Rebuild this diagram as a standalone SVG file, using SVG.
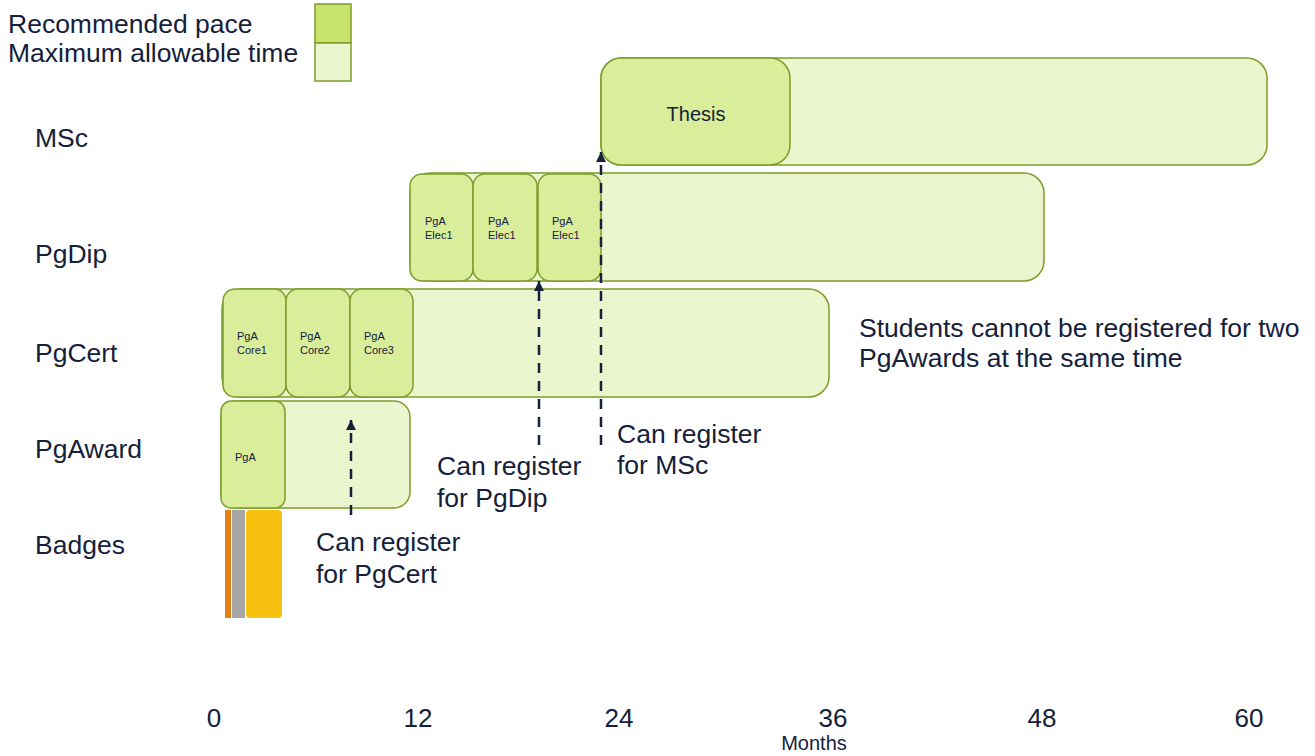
<svg xmlns="http://www.w3.org/2000/svg" width="1315" height="756" viewBox="0 0 1315 756">
<defs>
<style>
text{font-family:"Liberation Sans",Arial,sans-serif;fill:#15213b}
.lbl{font-size:26.5px}
.note{font-size:26.5px}
.small{font-size:11px}
.ax{font-size:26px;text-anchor:middle}
.max{fill:#ebf6cf;stroke:#7d9c2a;stroke-width:1.5}
.rec{fill:#d9ed9b;stroke:#7d9c2a;stroke-width:1.5}
.conn{stroke:#15213b;stroke-width:2.5;stroke-dasharray:10,8;fill:none}
</style>
<marker id="ah" viewBox="0 0 10 10" refX="10" refY="5" markerWidth="4" markerHeight="4" orient="auto" markerUnits="strokeWidth">
<path d="M0,0 L10,5 L0,10 Z" fill="#15213b"/>
</marker>
</defs>
<rect width="1315" height="756" fill="#fff"/>
<g id="legend">
<text x="8" y="33" class="lbl">Recommended pace</text>
<text x="8" y="62" class="lbl">Maximum allowable time</text>
<rect x="315" y="4" width="36" height="39" fill="#c8e36b" stroke="#7d9c2a" stroke-width="1.5"/>
<rect x="315" y="43" width="36" height="38" fill="#ebf6cf" stroke="#7d9c2a" stroke-width="1.5"/>
</g>
<g id="row-labels">
<text x="35" y="147" class="lbl">MSc</text>
<text x="35" y="263" class="lbl">PgDip</text>
<text x="35" y="362" class="lbl">PgCert</text>
<text x="35" y="458" class="lbl">PgAward</text>
<text x="35" y="554" class="lbl">Badges</text>
</g>
<g id="msc">
<rect class="max" x="601" y="58" width="666" height="107" rx="20"/>
<rect class="rec" x="601" y="58" width="189" height="107" rx="20"/>
<text x="696" y="121" font-size="20" text-anchor="middle">Thesis</text>
</g>
<g id="pgdip">
<rect class="max" x="410" y="173" width="634" height="108" rx="20"/>
<rect class="rec" x="410" y="174" width="63" height="107" rx="12"/>
<rect class="rec" x="473" y="174" width="64" height="107" rx="12"/>
<rect class="rec" x="538" y="174" width="63" height="107" rx="12"/>
<text x="425" y="225" class="small">PgA</text><text x="425" y="239" class="small">Elec1</text>
<text x="488" y="225" class="small">PgA</text><text x="488" y="239" class="small">Elec1</text>
<text x="552" y="225" class="small">PgA</text><text x="552" y="239" class="small">Elec1</text>
</g>
<g id="pgcert">
<rect class="max" x="222" y="289" width="607" height="108" rx="20"/>
<rect class="rec" x="223" y="289" width="63" height="108" rx="12"/>
<rect class="rec" x="286" y="289" width="64" height="108" rx="12"/>
<rect class="rec" x="350" y="289" width="63" height="108" rx="12"/>
<text x="237" y="340" class="small">PgA</text><text x="237" y="354" class="small">Core1</text>
<text x="300" y="340" class="small">PgA</text><text x="300" y="354" class="small">Core2</text>
<text x="364" y="340" class="small">PgA</text><text x="364" y="354" class="small">Core3</text>
</g>
<g id="pgaward">
<rect class="max" x="221" y="401" width="189" height="107" rx="16"/>
<rect class="rec" x="221" y="401" width="64" height="107" rx="10"/>
<text x="235" y="461" class="small">PgA</text>
</g>
<g id="badges">
<rect x="225" y="510" width="6" height="108" fill="#e58113"/>
<rect x="232" y="510" width="13" height="108" fill="#a6a6a6"/>
<rect x="246" y="510" width="36" height="108" rx="4" fill="#f7c20f"/>
</g>
<g id="connectors">
<line class="conn" x1="351" y1="515" x2="351" y2="420" marker-end="url(#ah)"/>
<line class="conn" x1="539" y1="445" x2="539" y2="281" marker-end="url(#ah)"/>
<line class="conn" x1="601" y1="445" x2="601" y2="152" marker-end="url(#ah)"/>
</g>
<g id="notes">
<text x="316" y="551" class="note">Can register</text>
<text x="316" y="583" class="note">for PgCert</text>
<text x="437" y="475" class="note">Can register</text>
<text x="437" y="507" class="note">for PgDip</text>
<text x="617" y="443" class="note">Can register</text>
<text x="617" y="474" class="note">for MSc</text>
<text x="859" y="337" class="note">Students cannot be registered for two</text>
<text x="859" y="367" class="note">PgAwards at the same time</text>
</g>
<g id="axis">
<text x="214" y="727" class="ax">0</text>
<text x="418" y="727" class="ax">12</text>
<text x="619" y="727" class="ax">24</text>
<text x="833" y="727" class="ax">36</text>
<text x="1042" y="727" class="ax">48</text>
<text x="1249" y="727" class="ax">60</text>
<text x="814" y="750" font-size="20" text-anchor="middle">Months</text>
</g>
</svg>
